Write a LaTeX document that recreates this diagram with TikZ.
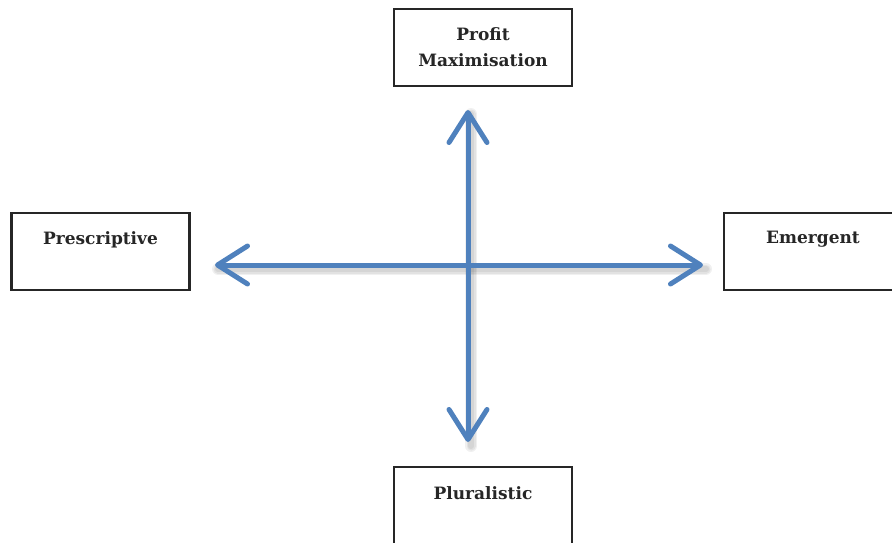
\documentclass[tikz,border=0pt]{standalone}
\usepackage{fontspec}
\setmainfont{DejaVu Serif}
\usetikzlibrary{arrows.meta}

\definecolor{axisblue}{RGB}{79,129,189}

\tikzset{
    pole/.style={draw=black!85, line width=2.2pt, minimum width=178pt, minimum height=77pt, inner sep=0pt},
    poletext/.style={anchor=north, align=center, font=\fontsize{17}{26}\selectfont\bfseries, text=black!85, inner sep=0pt, yshift=-19pt},
    axis/.style={draw=axisblue, line width=5pt, line cap=round, {Straight Barb[length=30pt,width=38pt,line width=5pt,round]}-{Straight Barb[length=30pt,width=38pt,line width=5pt,round]}},
    axisshadow/.style={draw=black, line cap=round, opacity=0.06}
}

\begin{document}
\begin{tikzpicture}[x=1pt,y=-1pt]
    \useasboundingbox (0,0) rectangle (892,543);
    \clip (0,0) rectangle (892,543);

    \node[pole, label={[poletext]north:Profit\\Maximisation}] (profit) at (483,47.5) {};
    \node[pole, label={[poletext]north:Prescriptive}] (prescr) at (100.5,251.5) {};
    \node[pole, label={[poletext]north:Emergent}] (emerg) at (813,251.5) {};
    \node[pole, minimum height=82pt, label={[poletext, yshift=-1pt]north:Pluralistic}] (plural) at (483,508) {};

    \coordinate (left) at (215,265);
    \coordinate (right) at (703,265);
    \coordinate (top) at (468,110);
    \coordinate (bottom) at (468,442);

    % soft shadow under the axes
    \foreach \w in {6,9,12} {
        \draw[axisshadow, line width=\w pt] ([shift={(3,4)}]left) -- ([shift={(3,4)}]right);
        \draw[axisshadow, line width=\w pt] ([shift={(3,4)}]top) -- ([shift={(3,4)}]bottom);
    }

    \draw[axis] (left) -- (right);
    \draw[axis] (top) -- (bottom);
\end{tikzpicture}
\end{document}
